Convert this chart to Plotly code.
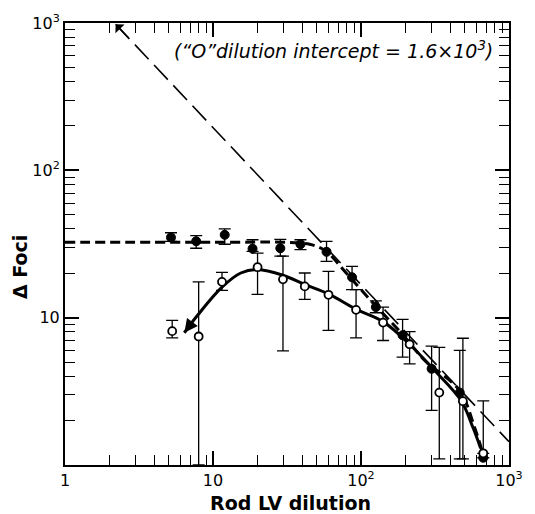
import math
import plotly.graph_objects as go

# Filled circles: mean foci per dilution (with error range)
x_filled = [5.2, 7.7, 12, 18.5, 28.5, 39, 58.5, 87, 126, 191, 300, 465, 670]
y_filled = [35, 33, 36.5, 29.4, 29.6, 31.5, 28, 18.8, 11.8, 7.6, 4.5, 3.1, 1.12]
hi_filled = [37.7, 36, 40, 33.8, 34, 33.8, 32.9, 22.3, 13, 9.75, 6.4, 6.0, 1.12]
lo_filled = [32.9, 29.6, 31.5, 28.2, 26.2, 29, 24.1, 15.5, 10.8, 5.4, 2.35, 1.1, 1.12]

# Open circles
x_open = [5.3, 8.0, 11.5, 20, 29.7, 41.7, 60.3, 92.6, 141, 213, 338, 488, 670]
y_open = [8.1, 7.45, 17.5, 22, 18.2, 16.3, 14.3, 11.3, 9.26, 6.6, 3.1, 2.71, 1.2]
hi_open = [9.6, 17.5, 20.3, 27.4, 26.2, 20.1, 20.6, 15.5, 11.8, 8.05, 6.28, 7.25, 2.72]
lo_open = [7.3, 1.0, 15.3, 14.4, 5.96, 13.3, 8.2, 7.3, 7.0, 4.85, 1.1, 1.1, 1.2]

# Fitted curve through filled circles (dashed)
x_fit_filled = [1, 10, 30, 40, 45, 50, 58.4, 79.4, 126, 191, 271, 464, 584, 675]
y_fit_filled = [32.5, 32.5, 32.5, 32, 31.5, 30.5, 28.2, 20.1, 12, 7.7, 5.1, 3.2, 1.81, 1.14]

# Fitted curve through open circles (solid)
x_fit_open = [6.4, 7.94, 11.5, 15.4, 20, 29.7, 41.7, 60.3, 92.6, 141, 213, 300, 474, 569, 643]
y_fit_open = [7.9, 10.5, 16.1, 20.1, 21.2, 19.4, 16.8, 14.5, 11.4, 9.4, 6.6, 4.6, 2.74, 1.81, 1.3]

# Extrapolated limiting line
x_limit = [2.2, 1000]
y_limit = [980, 1.44]

x_ticks = [1, 10, 100, 1000]
x_ticktext = ["1", "10", "10<sup>2</sup>", "10<sup>3</sup>"]
y_ticks = [10, 100, 1000]
y_ticktext = ["10", "10<sup>2</sup>", "10<sup>3</sup>"]
minor_vals = [m * 10 ** k for k in range(3) for m in range(2, 10)]

FONT = "DejaVu Sans"


def errs(y, hi, lo):
    return [h - v for v, h in zip(y, hi)], [v - l for v, l in zip(y, lo)]


fig = go.Figure()

fig.add_trace(go.Scatter(
    x=x_limit, y=y_limit, mode="lines",
    line=dict(color="black", width=1.6, dash="20px,8px"),
    hoverinfo="skip", showlegend=False))

fig.add_trace(go.Scatter(
    x=x_fit_filled, y=y_fit_filled, mode="lines", line_shape="spline",
    line=dict(color="black", width=3, dash="10px,5px"),
    showlegend=False))

fig.add_trace(go.Scatter(
    x=x_fit_open, y=y_fit_open, mode="lines", line_shape="spline",
    line=dict(color="black", width=3),
    showlegend=False))

up_f, dn_f = errs(y_filled, hi_filled, lo_filled)
fig.add_trace(go.Scatter(
    x=x_filled, y=y_filled, mode="markers",
    marker=dict(color="black", size=9, line=dict(color="black", width=1)),
    error_y=dict(type="data", symmetric=False, array=up_f, arrayminus=dn_f,
                 color="black", thickness=1.3, width=6),
    cliponaxis=False, showlegend=False))

up_o, dn_o = errs(y_open, hi_open, lo_open)
fig.add_trace(go.Scatter(
    x=x_open, y=y_open, mode="markers",
    marker=dict(color="white", size=8, line=dict(color="black", width=1.8)),
    error_y=dict(type="data", symmetric=False, array=up_o, arrayminus=dn_o,
                 color="black", thickness=1.3, width=6),
    cliponaxis=False, showlegend=False))

axis_common = dict(
    type="log", range=[0, 3], showgrid=False, zeroline=False,
    showline=True, linecolor="black", linewidth=2, mirror="ticks",
    ticks="inside", ticklen=14, tickwidth=1.5, tickcolor="black",
    tickfont=dict(family=FONT, size=16, color="black"),
    minor=dict(tickvals=minor_vals, ticks="inside", ticklen=10,
               tickwidth=1.3, tickcolor="black"),
)

fig.update_layout(
    width=535, height=514,
    margin=dict(l=65, r=20, t=20, b=49),
    paper_bgcolor="white", plot_bgcolor="white",
    xaxis=dict(axis_common, tickvals=x_ticks, ticktext=x_ticktext),
    yaxis=dict(axis_common, tickvals=y_ticks, ticktext=y_ticktext),
    showlegend=False,
)

# Arrowheads at the ends of the limiting line and of the solid curve
fig.add_annotation(x=math.log10(x_limit[0]), y=math.log10(y_limit[0]),
                   xref="x", yref="y", text="", showarrow=True,
                   ax=14, ay=15, arrowhead=1, arrowsize=1.4, arrowwidth=1.5,
                   arrowcolor="black")
fig.add_annotation(x=math.log10(x_fit_open[0]), y=math.log10(y_fit_open[0]),
                   xref="x", yref="y", text="", showarrow=True,
                   ax=9, ay=-12, arrowhead=2, arrowsize=0.9, arrowwidth=3,
                   arrowcolor="black")

fig.add_annotation(
    x=0.605, y=0.939, xref="paper", yref="paper", showarrow=False,
    xanchor="center", yanchor="middle",
    text="(“O”dilution intercept = 1.6×10<sup>3</sup>)",
    font=dict(family=FONT, size=19, color="black", style="italic"))

fig.add_annotation(
    x=0.507, y=-0.087, xref="paper", yref="paper", showarrow=False,
    xanchor="center", yanchor="middle",
    text="<b>Rod LV dilution</b>",
    font=dict(family=FONT, size=19, color="black"))

fig.add_annotation(
    x=-0.1, y=0.447, xref="paper", yref="paper", showarrow=False,
    xanchor="center", yanchor="middle",
    text="<b>Δ Foci</b>", textangle=-90,
    font=dict(family=FONT, size=19, color="black"))

fig.write_html("out.html")
